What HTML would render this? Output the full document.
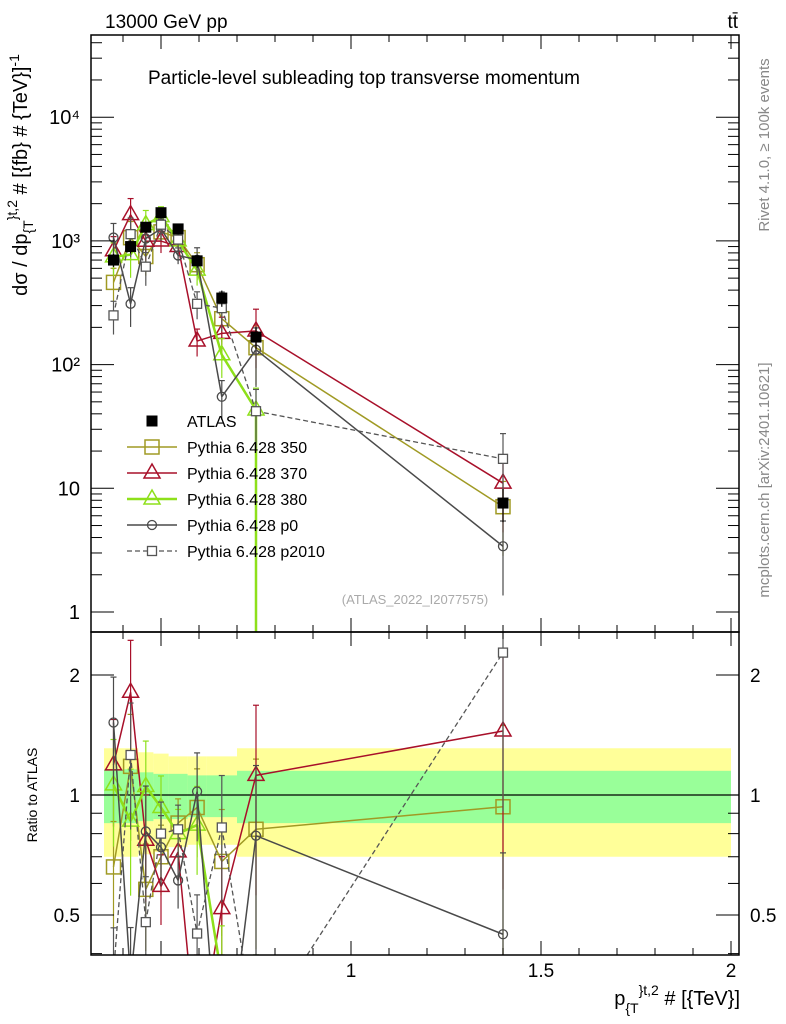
<!DOCTYPE html>
<html><head><meta charset="utf-8"><style>
html,body{margin:0;background:#fff;width:786px;height:1024px;overflow:hidden;}
svg{font-family:"Liberation Sans",sans-serif;display:block;}
</style></head><body>
<svg id="c" width="786" height="1024" viewBox="0 0 786 1024" xmlns="http://www.w3.org/2000/svg"></svg>
<script>
const binEdges=[0.35,0.4,0.44,0.48,0.52,0.57,0.62,0.7,0.8,2.0];
const atlas=[700,900,1290,1690,1250,690,345,167,7.6];
const atlasErr=[0.12,0.12,0.1,0.1,0.1,0.12,0.15,0.2,0.3];
const py350=[462,1062,748,1183,1063,642,235,137,7.1];
const py370=[833,1629,993,997,900,155,179,187,11];
const py380=[742,774,1355,1572,1000,580,120,43,null];
const pyP0=[1064,310,1045,1250,763,704,55,132,3.4];
const pyP2010=[250,1134,619,1352,1025,310,286,42,17.3];
const mcErr=[0.3,0.35,0.3,0.2,0.15,0.25,0.35,0.5,0.6];
const yellowUp=[1.31,1.31,1.28,1.27,1.25,1.25,1.25,1.31,1.31];
const yellowDn=[0.70,0.70,0.71,0.72,0.74,0.75,0.75,0.70,0.70];
const greenUp=[1.16,1.16,1.14,1.13,1.13,1.12,1.12,1.15,1.15];
const greenDn=[0.85,0.85,0.86,0.87,0.87,0.88,0.88,0.85,0.85];
const xTicks=[1,1.5,2];
const yTickLabels=["1","10","10²","10³","10⁴"];

const svg=document.getElementById('c');
const NS='http://www.w3.org/2000/svg';
const L=91,R=739,T=35,M=632,B=955;
const X=v=>161+(v-0.5)*380;
const Y=v=>612-Math.log10(v)*123.7;
const RY=r=>795-Math.log10(r)*398.6;
const cl=(v,a,b)=>Math.max(a,Math.min(b,v));
function el(tag,at,parent){const e=document.createElementNS(NS,tag);for(const k in at)e.setAttribute(k,at[k]);(parent||svg).appendChild(e);return e;}
const centers=binEdges.slice(0,-1).map((e,i)=>(e+binEdges[i+1])/2);
// clip polyline to y in [y0,y1]; returns path d
function clipPath(pts,y0,y1){
  let d='';
  for(let i=0;i<pts.length-1;i++){
    let [xa,ya]=pts[i],[xb,yb]=pts[i+1];
    let t0=0,t1=1;const dy=yb-ya;
    if(dy===0){if(ya<y0||ya>y1)continue;}
    else{
      let ta=(y0-ya)/dy,tb=(y1-ya)/dy;if(ta>tb)[ta,tb]=[tb,ta];
      t0=Math.max(t0,ta);t1=Math.min(t1,tb);if(t0>t1)continue;
    }
    d+=`M${xa+(xb-xa)*t0},${ya+dy*t0}L${xa+(xb-xa)*t1},${ya+dy*t1}`;
  }
  return d;
}

const defs=el('defs',{});
const c1=el('clipPath',{id:'ct'},defs);el('rect',{x:L,y:T,width:R-L,height:M-T},c1);
const c2=el('clipPath',{id:'cb'},defs);el('rect',{x:L,y:M,width:R-L,height:B-M},c2);

const bandG=el('g',{'clip-path':'url(#cb)'});


for(let i=0;i<centers.length;i++){
  const r1=el('rect',{x:X(binEdges[i]),y:RY(yellowUp[i]),width:X(binEdges[i+1])-X(binEdges[i]),height:RY(yellowDn[i])-RY(yellowUp[i]),fill:'#ffff99'},bandG);
  
  
}
for(let i=0;i<centers.length;i++){
  const r2=el('rect',{x:X(binEdges[i]),y:RY(greenUp[i]),width:X(binEdges[i+1])-X(binEdges[i]),height:RY(greenDn[i])-RY(greenUp[i]),fill:'#99ff99'},bandG);
  
  
}
el('line',{x1:L,x2:R,y1:RY(1),y2:RY(1),stroke:'#000','stroke-width':1.2},bandG);

function marker(g,type,x,y,col){
  const s=7;
  if(type==='sq')el('rect',{x:x-s,y:y-s,width:2*s,height:2*s,fill:'none',stroke:col,'stroke-width':1.5},g);
  else if(type==='ssq')el('rect',{x:x-4.5,y:y-4.5,width:9,height:9,fill:'#fff',stroke:col,'stroke-width':1.3},g);
  else if(type==='tri')el('path',{d:`M${x},${y-9}L${x+8},${y+5}L${x-8},${y+5}Z`,fill:'none',stroke:col,'stroke-width':1.5},g);
  else if(type==='circ')el('circle',{cx:x,cy:y,r:4.5,fill:'none',stroke:col,'stroke-width':1.3},g);
  else if(type==='fsq')el('rect',{x:x-5.5,y:y-5.5,width:11,height:11,fill:'#000'},g);
}
const series=[
 {name:'Pythia 6.428 350',d:py350,col:'#a09a24',m:'sq',w:1.5,dash:''},
 {name:'Pythia 6.428 370',d:py370,col:'#a8102a',m:'tri',w:1.5,dash:''},
 {name:'Pythia 6.428 380',d:py380,col:'#8ee01a',m:'tri',w:2.5,dash:''},
 {name:'Pythia 6.428 p0',d:pyP0,col:'#4a4a4a',m:'circ',w:1.5,dash:''},
 {name:'Pythia 6.428 p2010',d:pyP2010,col:'#555555',m:'ssq',w:1.3,dash:'5,3'}
];
const topG=el('g',{'clip-path':'url(#ct)'});
const botG=el('g',{'clip-path':'url(#cb)'});
series.forEach((s,si)=>{
  const gt=el('g',{},topG);
  
  
  const gb=el('g',{},botG);
  
  
  const ptsT=[],ptsB=[];let last=-1;
  s.d.forEach((v,i)=>{if(v==null)return;last=i;
    ptsT.push([X(centers[i]),Y(v)]);
    ptsB.push([X(centers[i]),RY(v/atlas[i])]);});
  if(s.d[s.d.length-1]==null){ptsT.push([X(centers[last]),M]);}
  el('path',{d:clipPath(ptsT,T,M),fill:'none',stroke:s.col,'stroke-width':s.w,'stroke-dasharray':s.dash},gt);
  el('path',{d:clipPath(ptsB,M,B),fill:'none',stroke:s.col,'stroke-width':s.w,'stroke-dasharray':s.dash},gb);
  s.d.forEach((v,i)=>{if(v==null)return;const x=X(centers[i]);const e=mcErr[i];
    const lo=Math.max(v*(1-e),0.01);
    el('line',{x1:x,x2:x,y1:cl(Y(v*(1+e)),T,M),y2:cl(Y(lo),T,M),stroke:s.col,'stroke-width':1.2},gt);
    el('line',{x1:x-3,x2:x+3,y1:cl(Y(v*(1+e)),T,M),y2:cl(Y(v*(1+e)),T,M),stroke:s.col,'stroke-width':1.2},gt);
    const r=v/atlas[i];
    el('line',{x1:x,x2:x,y1:cl(RY(r*(1+e)),M,B),y2:cl(RY(Math.max(r*(1-e),0.01)),M,B),stroke:s.col,'stroke-width':1.2},gb);
    el('line',{x1:x-3,x2:x+3,y1:cl(RY(r*(1+e)),M,B),y2:cl(RY(r*(1+e)),M,B),stroke:s.col,'stroke-width':1.2},gb);
    if(Y(v)<M) marker(gt,s.m,x,Y(v),s.col);
    if(RY(r)<B-4 && RY(r)>M+4) marker(gb,s.m,x,RY(r),s.col);
  });
});
const ga=el('g',{},topG);


atlas.forEach((v,i)=>{const x=X(centers[i]);const e=atlasErr[i];
  el('line',{x1:x,x2:x,y1:Y(v*(1+e)),y2:Y(v*(1-e)),stroke:'#000','stroke-width':1.2},ga);
  marker(ga,'fsq',x,Y(v),'#000');});

el('rect',{x:L,y:T,width:R-L,height:M-T,fill:'none',stroke:'#000','stroke-width':1.5});
el('rect',{x:L,y:M,width:R-L,height:B-M,fill:'none',stroke:'#000','stroke-width':1.5});
for(let k=4;k<=20;k++){const v=k/10;const x=X(v);if(x<L||x>R)continue;const maj=(k%5===0);const len=maj?14:7;
  [T,M].forEach(y0=>el('line',{x1:x,x2:x,y1:y0,y2:y0+len,stroke:'#000'}));
  [M,B].forEach(y0=>el('line',{x1:x,x2:x,y1:y0,y2:y0-len,stroke:'#000'}));}
xTicks.forEach(v=>{const t=el('text',{x:X(v),y:977,'font-size':19,'text-anchor':'middle'});t.textContent=String(v);
  });
for(let d=0;d<=4;d++){for(let m=1;m<10;m++){const v=m*Math.pow(10,d);const y=Y(v);if(y<T||y>M)continue;const len=m===1?23:11;
  el('line',{x1:L,x2:L+len,y1:y,y2:y,stroke:'#000'});el('line',{x1:R,x2:R-len,y1:y,y2:y,stroke:'#000'});}
  const t=el('text',{x:80,y:Y(Math.pow(10,d))+7,'font-size':20,'text-anchor':'end'});t.textContent=yTickLabels[d];
  }
for(let d=-1;d<=0;d++){for(let m=1;m<10;m++){const v=m*Math.pow(10,d);const y=RY(v);if(y<M||y>B)continue;const len=(v===1||v===2||v===0.5)?23:11;
  el('line',{x1:L,x2:L+len,y1:y,y2:y,stroke:'#000'});el('line',{x1:R,x2:R-len,y1:y,y2:y,stroke:'#000'});}}
[[2,'2'],[1,'1'],[0.5,'0.5']].forEach(([v,s])=>{
  const a=el('text',{x:80,y:RY(v)+7,'font-size':19,'text-anchor':'end'});a.textContent=s;
  
  const b=el('text',{x:750,y:RY(v)+7,'font-size':19});b.textContent=s;
  });

const lg=el('g',{});


marker(lg,'fsq',152,421,'#000');
let t0=el('text',{x:187,y:427,'font-size':16},lg);t0.textContent='ATLAS';
series.forEach((s,i)=>{const y=447+i*26;
  el('line',{x1:127,x2:177,y1:y,y2:y,stroke:s.col,'stroke-width':s.w,'stroke-dasharray':s.dash},lg);
  marker(lg,s.m,152,y,s.col);
  const t=el('text',{x:187,y:y+6,'font-size':16},lg);t.textContent=s.name;});
</script>
<svg width="786" height="1024" style="position:absolute;left:0;top:0" xmlns="http://www.w3.org/2000/svg">
<text x="105" y="28" font-size="19" font-family="Liberation Sans">13000 GeV pp</text>
<text x="738" y="28" font-size="19" font-family="Liberation Sans" text-anchor="end">tt̄</text>
<text x="148" y="84" font-size="19" font-family="Liberation Sans">Particle-level subleading top transverse momentum</text>
<text x="415" y="604" font-size="13" fill="#aaa" font-family="Liberation Sans" text-anchor="middle">(ATLAS_2022_I2077575)</text>
<text transform="translate(769,145) rotate(-90)" font-size="15" fill="#888" font-family="Liberation Sans" text-anchor="middle">Rivet 4.1.0, ≥ 100k events</text>
<text transform="translate(769,480) rotate(-90)" font-size="15" fill="#888" font-family="Liberation Sans" text-anchor="middle">mcplots.cern.ch [arXiv:2401.10621]</text>
<text transform="translate(27,175) rotate(-90)" font-size="20" font-family="Liberation Sans" text-anchor="middle">dσ / dp<tspan font-size="14" dy="6">{T</tspan><tspan font-size="14" dy="-16">}t,2</tspan><tspan dy="10"> # [{fb} # {TeV}]</tspan><tspan font-size="14" dy="-8">-1</tspan></text>
<text transform="translate(37,795) rotate(-90)" font-size="14" font-family="Liberation Sans" text-anchor="middle">Ratio to ATLAS</text>
<text x="740" y="1005" font-size="20" font-family="Liberation Sans" text-anchor="end">p<tspan font-size="14" dy="8">{T</tspan><tspan font-size="14" dy="-18">}t,2</tspan><tspan dy="10"> # [{TeV}]</tspan></text>
</svg>
</body></html>
